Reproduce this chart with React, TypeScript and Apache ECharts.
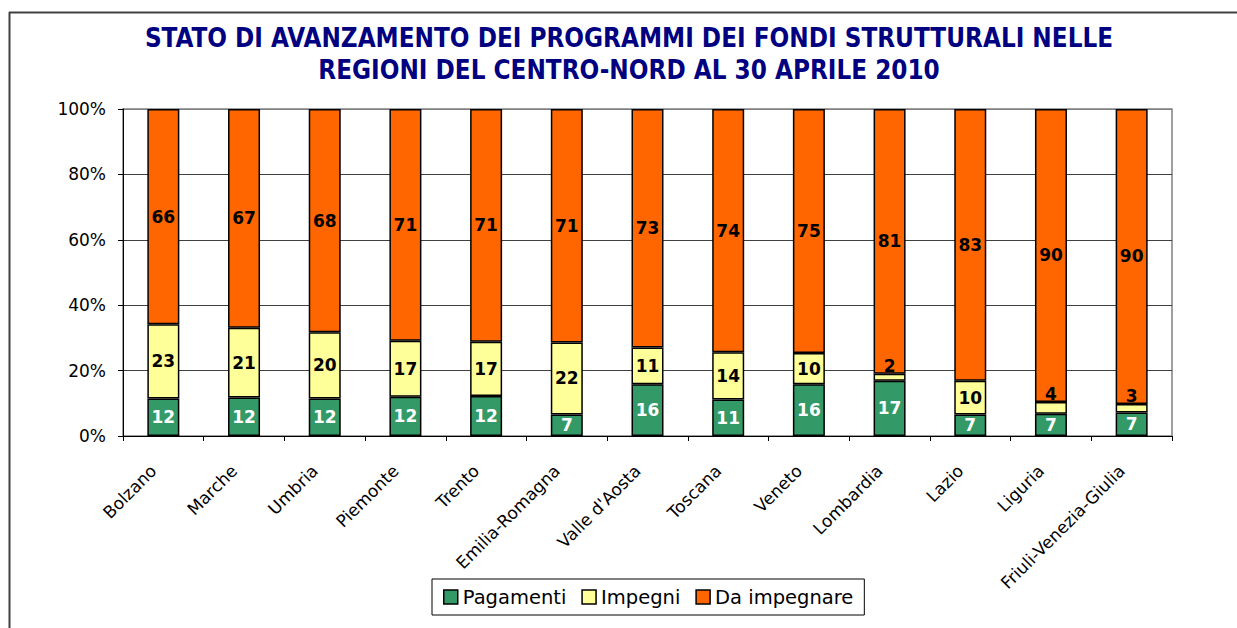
import React, { useEffect, useRef } from "react";
import * as echarts from "echarts";

const categories = [
  "Bolzano", "Marche", "Umbria", "Piemonte", "Trento", "Emilia-Romagna",
  "Valle d'Aosta", "Toscana", "Veneto", "Lombardia", "Lazio", "Liguria",
  "Friuli-Venezia-Giulia",
];
const pagamenti = [11.5, 11.8, 11.5, 12.0, 12.2, 6.6, 15.8, 11.2, 15.8, 16.9, 6.6, 6.8, 7.2];
const impegni = [22.7, 21.3, 20.2, 17.1, 16.6, 22.0, 11.3, 14.4, 9.6, 2.1, 10.3, 3.6, 2.6];
const daImpegnare = [65.8, 66.9, 68.3, 70.9, 71.2, 71.4, 72.9, 74.4, 74.6, 81.0, 83.1, 89.6, 90.2];
const yTicks = [0, 20, 40, 60, 80, 100];

const titleLines = [
  "STATO DI AVANZAMENTO DEI PROGRAMMI DEI FONDI STRUTTURALI NELLE",
  "REGIONI DEL CENTRO-NORD AL 30 APRILE 2010",
];

const FONT = "DejaVu Sans";

export default function App() {
  const ref = useRef<HTMLDivElement>(null);
  useEffect(() => {
    document.body.style.margin = "0";
    const chart = echarts.init(ref.current!, undefined, { renderer: "svg" });
    const labelBase = {
      show: true,
      position: "inside",
      fontFamily: FONT,
      fontWeight: "bold",
      fontSize: 17,
      formatter: (p: any) => String(Math.round(p.value)),
    };
    const makeData = (arr: number[], small: boolean) =>
      arr.map((v) =>
        small && v < 5
          ? { value: v, label: { position: "top", distance: -1 } }
          : v
      );
    const itemBase = { borderColor: "#000", borderWidth: 1.5 };
    chart.setOption({
      animation: false,
      backgroundColor: "#fff",
      title: {
        text: titleLines.join("\n"),
        left: 624,
        top: 17,
        textAlign: "center",
        textStyle: {
          fontFamily: "DejaVu Sans Condensed",
          fontWeight: "bold",
          fontSize: 25.8,
          color: "#000080",
          lineHeight: 32,
        },
      },
      legend: {
        data: ["Pagamenti", "Impegni", "Da impegnare"],
        left: 432,
        top: 579,
        orient: "horizontal",
        icon: "rect",
        itemWidth: 14,
        itemHeight: 14,
        itemGap: 15,
        padding: [8, 11],
        borderColor: "#000",
        borderWidth: 1,
        textStyle: { fontFamily: FONT, fontSize: 19.5, color: "#000" },
        itemStyle: { borderColor: "#000", borderWidth: 1.5 },
      },
      grid: {
        left: 123,
        right: 65,
        top: 109,
        bottom: 192,
        show: true,
        borderColor: "#808080",
        borderWidth: 1.5,
      },
      xAxis: {
        type: "category",
        data: categories,
        axisLine: { lineStyle: { color: "#000", width: 1 } },
        axisTick: { show: true, length: 5, lineStyle: { color: "#000" } },
        axisLabel: {
          rotate: 45,
          margin: 22,
          padding: [0, 14, 0, 0],
          fontFamily: FONT,
          fontSize: 17,
          color: "#000",
          interval: 0,
        },
      },
      yAxis: {
        type: "value",
        min: 0,
        max: 100,
        interval: 20,
        axisLine: { show: true, lineStyle: { color: "#000", width: 1 } },
        axisTick: { show: true, length: 5, lineStyle: { color: "#000" } },
        axisLabel: {
          formatter: (v: number) => (yTicks.includes(v) ? v + "%" : ""),
          fontFamily: FONT,
          fontSize: 17,
          color: "#000",
          margin: 17,
        },
        splitLine: {
          lineStyle: {
            color: ["#404040", "#404040", "#404040", "#404040", "#404040", "#808080"],
            width: 1,
          },
        },
      },
      series: [
        {
          name: "Pagamenti",
          type: "bar",
          stack: "tot",
          barWidth: 32,
          data: makeData(pagamenti, false),
          itemStyle: { ...itemBase, color: "#339966" },
          label: { ...labelBase, color: "#fff" },
        },
        {
          name: "Impegni",
          type: "bar",
          stack: "tot",
          barWidth: 32,
          data: makeData(impegni, true),
          itemStyle: { ...itemBase, color: "#FFFF99" },
          label: { ...labelBase, color: "#000" },
        },
        {
          name: "Da impegnare",
          type: "bar",
          stack: "tot",
          barWidth: 32,
          data: makeData(daImpegnare, false),
          itemStyle: { ...itemBase, color: "#FF6600" },
          label: { ...labelBase, color: "#000" },
        },
      ],
      graphic: [
        {
          type: "line",
          shape: { x1: 9, y1: 12.5, x2: 1237, y2: 12.5 },
          style: { stroke: "#404040", lineWidth: 2 },
        },
        {
          type: "line",
          shape: { x1: 9.5, y1: 12, x2: 9.5, y2: 628 },
          style: { stroke: "#404040", lineWidth: 2 },
        },
      ],
    });
    return () => chart.dispose();
  }, []);
  return <div ref={ref} style={{ width: 1237, height: 628 }} />;
}
